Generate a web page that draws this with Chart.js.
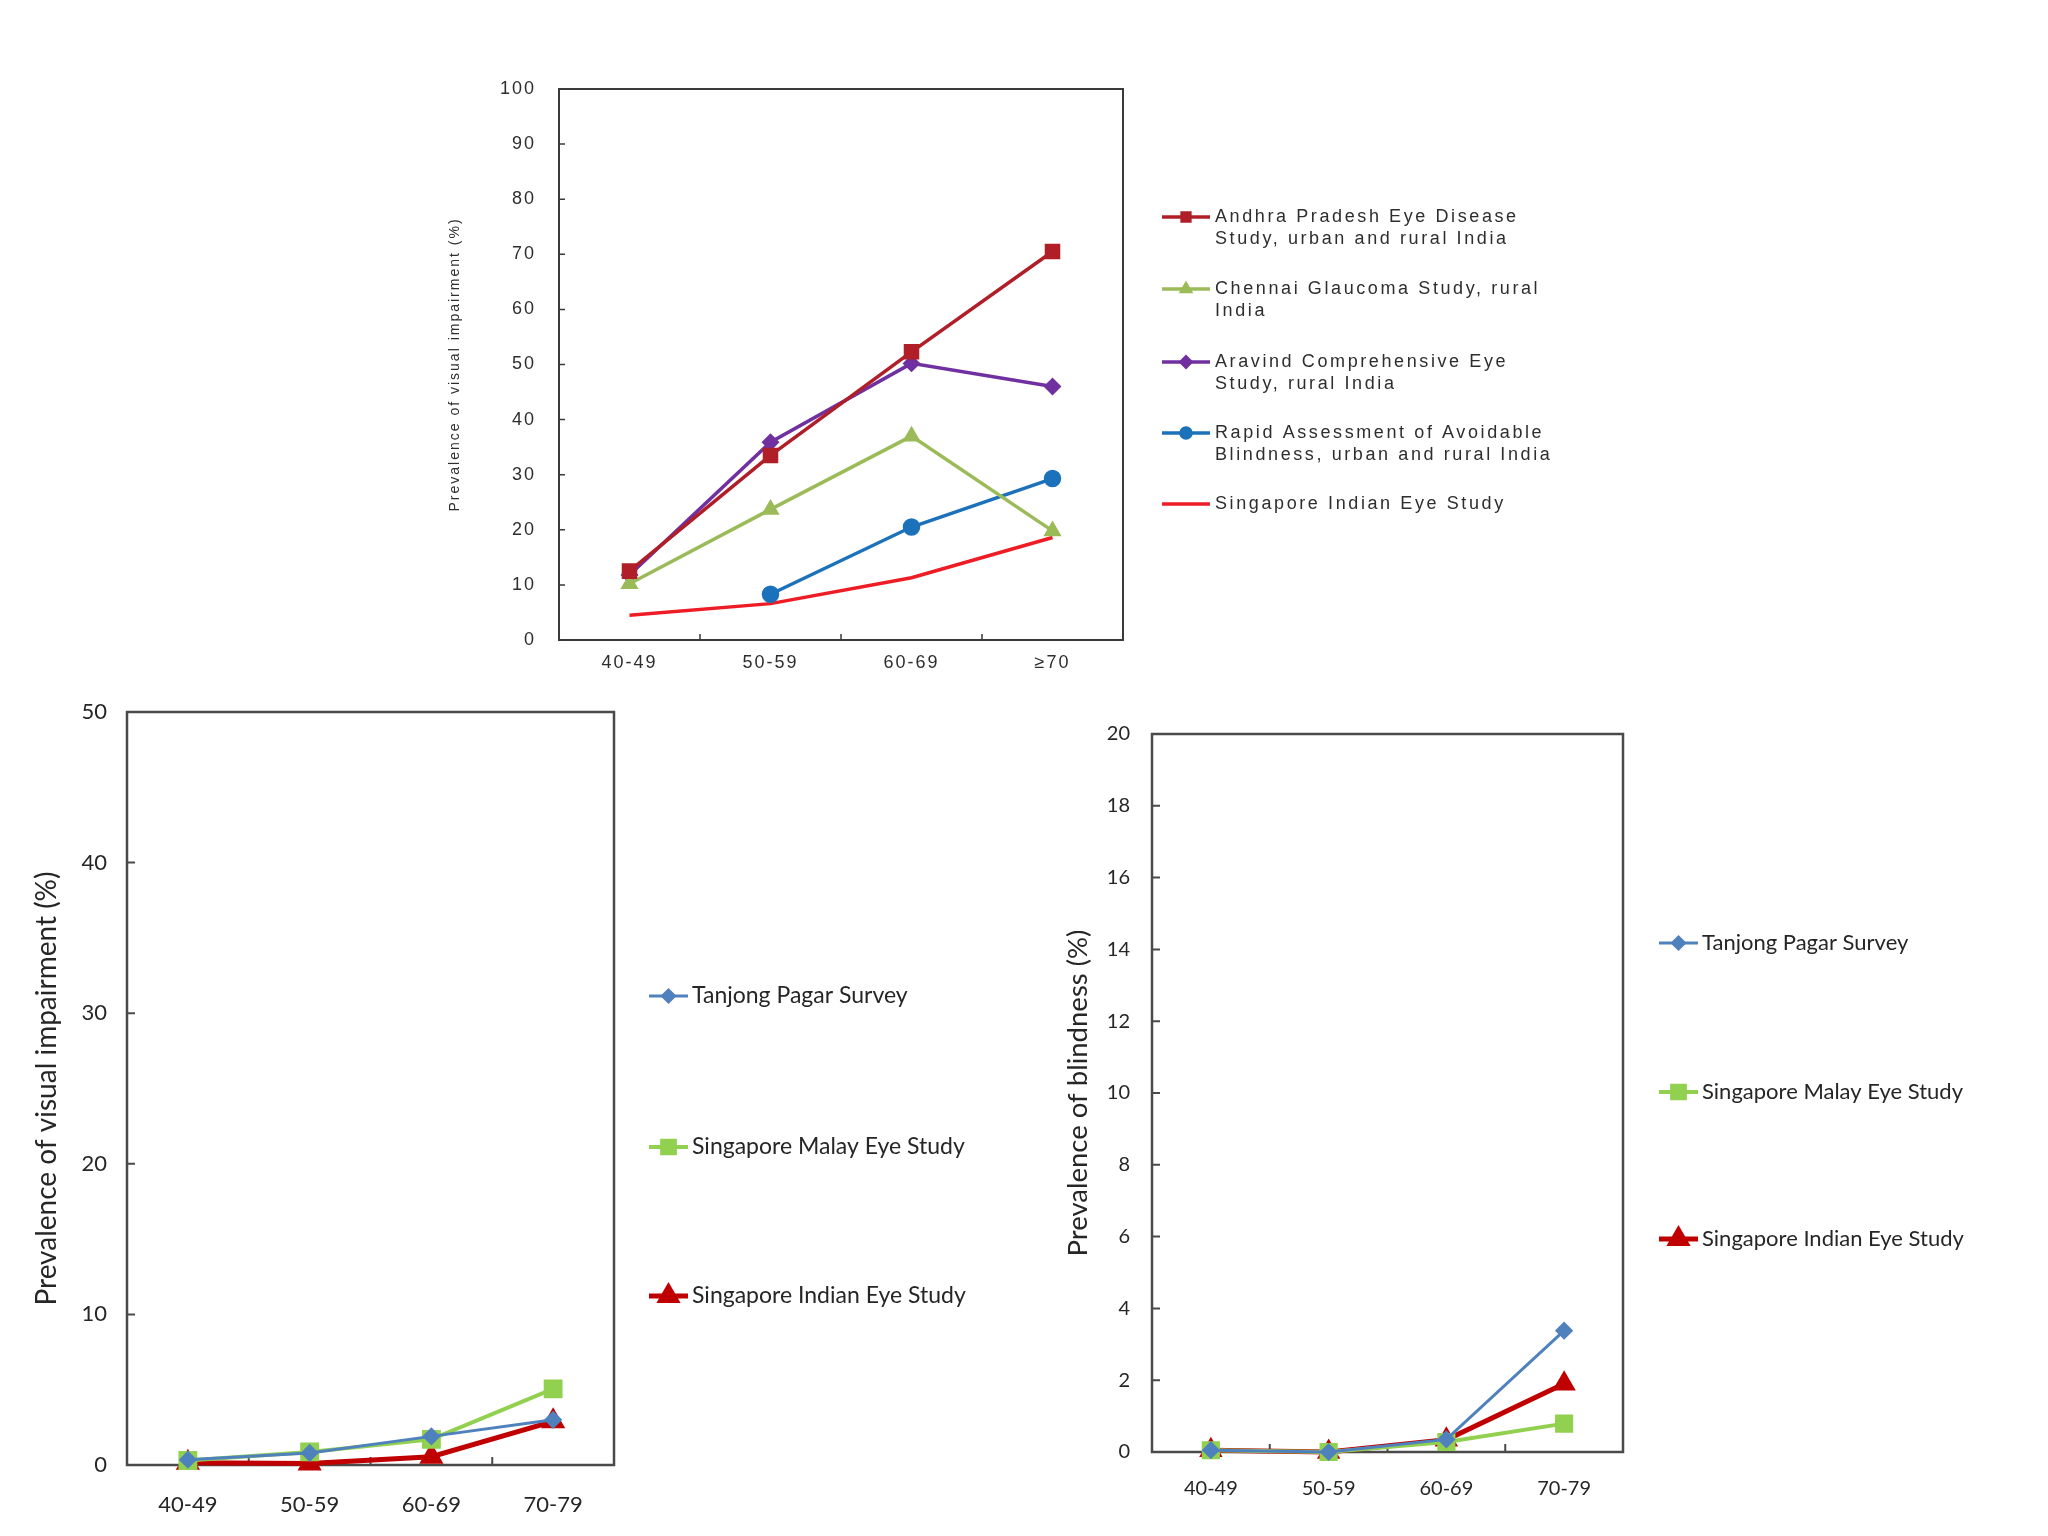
<!DOCTYPE html>
<html lang="en">
<head>
<meta charset="UTF-8">
<title>Prevalence of visual impairment and blindness by age</title>
<script src="https://cdn.jsdelivr.net/npm/chart.js@4.4.1/dist/chart.umd.min.js"></script>
<style>
  html, body { margin: 0; padding: 0; background: #fff; }
  body { width: 2048px; height: 1536px; position: relative; overflow: hidden; }
  .box { position: absolute; }
  #topBox { left: 400px; top: 60px; width: 1220px; height: 640px; }
  #leftBox { left: 0; top: 680px; width: 1040px; height: 856px; }
  #rightBox { left: 1040px; top: 680px; width: 1008px; height: 856px; }
</style>
</head>
<body>
<div class="box" id="topBox"><canvas id="topChart"></canvas></div>
<div class="box" id="leftBox"><canvas id="leftChart"></canvas></div>
<div class="box" id="rightBox"><canvas id="rightChart"></canvas></div>

<script>
// ---- data: India studies, visual impairment (%)
const topAges = ['40-49', '50-59', '60-69', '\u226570'];
const topYTicks = [0, 10, 20, 30, 40, 50, 60, 70, 80, 90, 100];
const andhraVI = [12.5, 33.5, 52.3, 70.5];
const chennaiVI = [10.2, 23.7, 37.0, 19.8];
const aravindVI = [11.8, 35.9, 50.2, 46.0];
const raabVI = [null, 8.3, 20.5, 29.3];
const sindiVI = [4.5, 6.6, 11.3, 18.6];
const topNames = [
  ['Andhra Pradesh Eye Disease', 'Study, urban and rural India'],
  ['Chennai Glaucoma Study, rural', 'India'],
  ['Aravind Comprehensive Eye', 'Study, rural India'],
  ['Rapid Assessment of Avoidable', 'Blindness, urban and rural India'],
  ['Singapore Indian Eye Study']
];

// ---- data: Singapore studies
const sgAges = ['40-49', '50-59', '60-69', '70-79'];
const sgNames = ['Tanjong Pagar Survey', 'Singapore Malay Eye Study', 'Singapore Indian Eye Study'];
const viYTicks = [0, 10, 20, 30, 40, 50];
const tanjongVI = [0.35, 0.8, 1.9, 3.0];
const malayVI = [0.3, 0.87, 1.7, 5.05];
const indianVI = [0.15, 0.1, 0.55, 2.9];
const blindYTicks = [0, 2, 4, 6, 8, 10, 12, 14, 16, 18, 20];
const tanjongBlind = [0.05, 0.0, 0.35, 3.38];
const malayBlind = [0.05, 0.0, 0.28, 0.79];
const indianBlind = [0.05, 0.0, 0.34, 1.9];

Chart.defaults.animation = false;

// box around the plot + inward tick marks
const frameTicks = {
  id: 'frameTicks',
  beforeDatasetsDraw(chart, args, opts) {
    const { ctx, chartArea: a, scales: { x, y } } = chart;
    ctx.save();
    ctx.strokeStyle = opts.color;
    ctx.lineWidth = opts.width;
    ctx.strokeRect(a.left, a.top, a.right - a.left, a.bottom - a.top);
    ctx.lineWidth = opts.tickWidth;
    ctx.beginPath();
    y.ticks.forEach(t => {
      const py = y.getPixelForValue(t.value);
      ctx.moveTo(a.left, py);
      ctx.lineTo(a.left + opts.tickLen, py);
    });
    for (let i = 1; i < x.ticks.length; i++) {
      const px = (x.getPixelForValue(i - 1) + x.getPixelForValue(i)) / 2;
      ctx.moveTo(px, a.bottom);
      ctx.lineTo(px, a.bottom - opts.tickLen);
    }
    ctx.stroke();
    ctx.restore();
  }
};

// legend to the right of the plot, one row per dataset
const sideLegend = {
  id: 'sideLegend',
  afterDraw(chart, args, opts) {
    const ctx = chart.ctx;
    ctx.save();
    ctx.font = opts.font;
    ctx.textBaseline = 'middle';
    ctx.textAlign = 'left';
    if (opts.spacing) ctx.letterSpacing = opts.spacing;
    chart.data.datasets.forEach((ds, i) => {
      const y = opts.rows[i];
      ctx.strokeStyle = ds.borderColor;
      ctx.lineWidth = opts.lineWidth[i];
      ctx.beginPath();
      ctx.moveTo(opts.x1, y);
      ctx.lineTo(opts.x2, y);
      ctx.stroke();
      if (ds.pointRadius > 0) {
        ctx.fillStyle = ds.borderColor;
        Chart.helpers.drawPoint(ctx, {
          pointStyle: ds.pointStyle,
          radius: opts.markerRadius[i],
          rotation: 0,
          borderWidth: 1
        }, (opts.x1 + opts.x2) / 2, y);
      }
      ctx.fillStyle = opts.color;
      opts.lines[i].forEach((t, j) => ctx.fillText(t, opts.textX, y + j * opts.lineGap));
    });
    ctx.restore();
  }
};

const spacing = {
  id: 'spacing',
  beforeDraw(chart, args, opts) {
    if (opts.value) chart.ctx.letterSpacing = opts.value;
  }
};

function line(label, data, color, style, radius, width) {
  return {
    label, data,
    borderColor: color,
    backgroundColor: color,
    pointBackgroundColor: color,
    pointBorderColor: color,
    pointStyle: style,
    pointRadius: radius,
    borderWidth: width,
    tension: 0,
    clip: false
  };
}

function options(o) {
  return {
    responsive: true,
    maintainAspectRatio: false,
    layout: { padding: { top: o.top, right: o.right, left: 0, bottom: 0 } },
    plugins: {
      legend: { display: false },
      tooltip: { enabled: false },
      sideLegend: o.legend,
      frameTicks: o.frame,
      spacing: { value: o.spacing }
    },
    scales: {
      x: {
        type: 'category',
        offset: true,
        grid: { display: false, drawTicks: false },
        border: { display: false },
        ticks: { color: o.color, font: o.tickFont, padding: o.xPad, maxRotation: 0, autoSkip: false },
        afterFit: s => { s.height = o.xHeight; }
      },
      y: {
        min: o.yTicks[0],
        max: o.yTicks[o.yTicks.length - 1],
        grid: { display: false, drawTicks: false },
        border: { display: false },
        ticks: { color: o.color, font: o.tickFont, padding: o.yPad },
        afterBuildTicks: s => { s.ticks = o.yTicks.map(v => ({ value: v })); },
        afterFit: s => {
          s.width = o.yWidth;
          s.paddingTop = 0;
          s.paddingBottom = 0;
        },
        title: {
          display: true,
          text: o.yTitle,
          color: o.color,
          font: o.titleFont,
          padding: { top: o.titlePad, bottom: 0 }
        }
      }
    }
  };
}

// top chart
new Chart(document.getElementById('topChart'), {
  type: 'line',
  data: {
    labels: topAges,
    datasets: [
      line(topNames[0].join(' '), andhraVI, '#B01E28', 'rect', 8.5, 3.5),
      line(topNames[1].join(' '), chennaiVI, '#9BBB59', 'triangle', 7, 3.5),
      line(topNames[2].join(' '), aravindVI, '#7030A0', 'rectRot', 6.5, 3.5),
      line(topNames[3].join(' '), raabVI, '#1C72BA', 'circle', 7, 3.5),
      line(topNames[4].join(' '), sindiVI, '#EE1C25', 'circle', 0, 3.5)
    ]
  },
  plugins: [spacing, frameTicks, sideLegend],
  options: options({
    top: 29, right: 497, yWidth: 159, xHeight: 60,
    xPad: 12, yPad: 23, titlePad: 47,
    yTicks: topYTicks,
    yTitle: 'Prevalence of visual impairment (%)',
    color: '#2e2e2e',
    spacing: '2px',
    tickFont: { family: '"Liberation Sans", Arial, sans-serif', size: 18 },
    titleFont: { family: '"Liberation Sans", Arial, sans-serif', size: 14 },
    frame: { color: '#3a3a3a', width: 2, tickWidth: 1.5, tickLen: 6 },
    legend: {
      x1: 762, x2: 810, textX: 815,
      rows: [157, 229, 302, 373, 444],
      lineGap: 22,
      font: '18px "Liberation Sans", Arial, sans-serif',
      spacing: '2.6px',
      color: '#2e2e2e',
      lineWidth: [3.5, 3.5, 3.5, 3.5, 3.5],
      markerRadius: [5.5, 5, 5, 5, 0],
      lines: topNames
    }
  })
});

// bottom left: visual impairment, Singapore
new Chart(document.getElementById('leftChart'), {
  type: 'line',
  data: {
    labels: sgAges,
    datasets: [
      line(sgNames[0], tanjongVI, '#4F81BD', 'rectRot', 7, 3),
      line(sgNames[1], malayVI, '#92D050', 'rect', 10.5, 4),
      line(sgNames[2], indianVI, '#C00000', 'triangle', 9, 5)
    ]
  },
  plugins: [frameTicks, sideLegend],
  options: options({
    top: 32, right: 426, yWidth: 127, xHeight: 71,
    xPad: 27, yPad: 20, titlePad: 30,
    yTicks: viYTicks,
    yTitle: 'Prevalence of visual impairment (%)',
    color: '#262626',
    tickFont: { family: 'Lato, "Noto Sans", sans-serif', size: 22 },
    titleFont: { family: 'Lato, "Noto Sans", sans-serif', size: 28 },
    frame: { color: '#4a4a4a', width: 2.5, tickWidth: 2, tickLen: 8 },
    legend: {
      x1: 649, x2: 688, textX: 692,
      rows: [316, 467, 616],
      lineGap: 0,
      font: '23px Lato, "Noto Sans", sans-serif',
      color: '#262626',
      lineWidth: [3, 4, 5],
      markerRadius: [6, 9, 9],
      lines: sgNames.map(n => [n])
    }
  })
});

// bottom right: blindness, Singapore
new Chart(document.getElementById('rightChart'), {
  type: 'line',
  data: {
    labels: sgAges,
    datasets: [
      line(sgNames[0], tanjongBlind, '#4F81BD', 'rectRot', 7, 3),
      line(sgNames[1], malayBlind, '#92D050', 'rect', 10, 4),
      line(sgNames[2], indianBlind, '#C00000', 'triangle', 8.5, 5)
    ]
  },
  plugins: [frameTicks, sideLegend],
  options: options({
    top: 54, right: 425, yWidth: 112, xHeight: 84,
    xPad: 25, yPad: 22, titlePad: 22,
    yTicks: blindYTicks,
    yTitle: 'Prevalence of blindness (%)',
    color: '#262626',
    tickFont: { family: 'Lato, "Noto Sans", sans-serif', size: 20 },
    titleFont: { family: 'Lato, "Noto Sans", sans-serif', size: 27.5 },
    frame: { color: '#4a4a4a', width: 2.5, tickWidth: 2, tickLen: 8 },
    legend: {
      x1: 619, x2: 658, textX: 662,
      rows: [263, 412, 559],
      lineGap: 0,
      font: '22px Lato, "Noto Sans", sans-serif',
      color: '#262626',
      lineWidth: [3, 4, 5],
      markerRadius: [6, 9, 9],
      lines: sgNames.map(n => [n])
    }
  })
});
</script>
</body>
</html>
